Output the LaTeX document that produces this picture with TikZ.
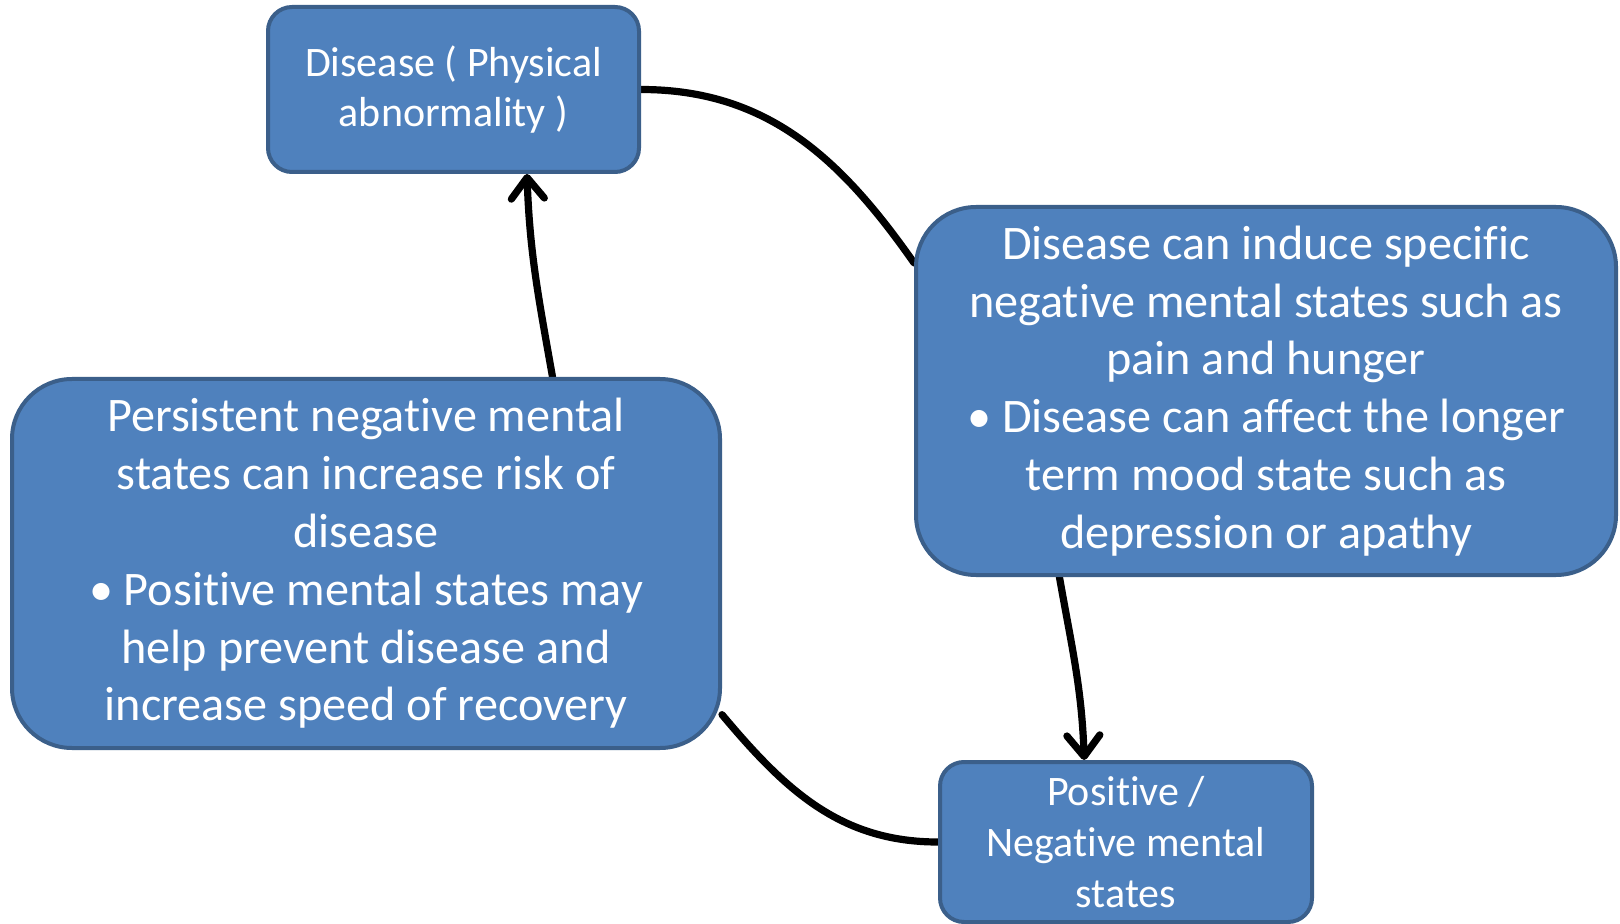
\documentclass[tikz,border=0pt]{standalone}
\usepackage{fontspec}
\setmainfont{Carlito}[Ligatures=NoCommon]
\usepackage{tikz}
\usetikzlibrary{arrows.meta,backgrounds}
\definecolor{mhboxfill}{HTML}{4F81BD}
\definecolor{mhboxline}{HTML}{3B5F8A}

\begin{document}
\begin{tikzpicture}[x=0.5pt,y=-0.5pt, every node/.style={align=center,text=white}]
\tikzset{smallbox/.style={draw=mhboxline,line width=2pt,fill=mhboxfill,rounded corners=12pt,inner sep=0pt,font=\fontsize{21}{25.3}\selectfont},
  bigbox/.style={smallbox,rounded corners=30pt,font=\fontsize{24.1}{28.9}\selectfont},
  link/.style={line width=3.6pt,black,line cap=round},
  tip/.style={-{Straight Barb[length=10.5pt,width=16.5pt,round]}}}
\useasboundingbox (0,0) rectangle (1620,924);
\node[smallbox,minimum width=185.5pt,minimum height=82.5pt] (disease) at (453.5,89.5) {Disease ( Physical\\abnormality )};
\node[bigbox,minimum width=350pt,minimum height=184pt] (induce) at (1266,391) {Disease can induce specific\\negative mental states such as\\pain and hunger\\\textbullet\ Disease can affect the longer\\term mood state such as\\depression or apathy};
\node[smallbox,minimum width=186pt,minimum height=80pt] (pnstates) at (1126,842) {Positive /\\Negative mental\\states};
\node[bigbox,minimum width=354pt,minimum height=184.5pt] (persist) at (366,563.5) {Persistent negative mental\\states can increase risk of\\disease\\\textbullet\ Positive mental states may\\help prevent disease and\\increase speed of recovery};
% the cycle
\begin{scope}[on background layer]
\draw[link] (disease.east) to[out=0,in=125] (induce.160);
\draw[link,tip] (induce.222) to[out=-80,in=92] (pnstates.117);
\draw[link] (pnstates.west) to[out=180,in=-50] (persist.-23);
\draw[link,tip] (persist.45) to[out=100,in=-88] (disease.-49);
\end{scope}
\end{tikzpicture}
\end{document}
